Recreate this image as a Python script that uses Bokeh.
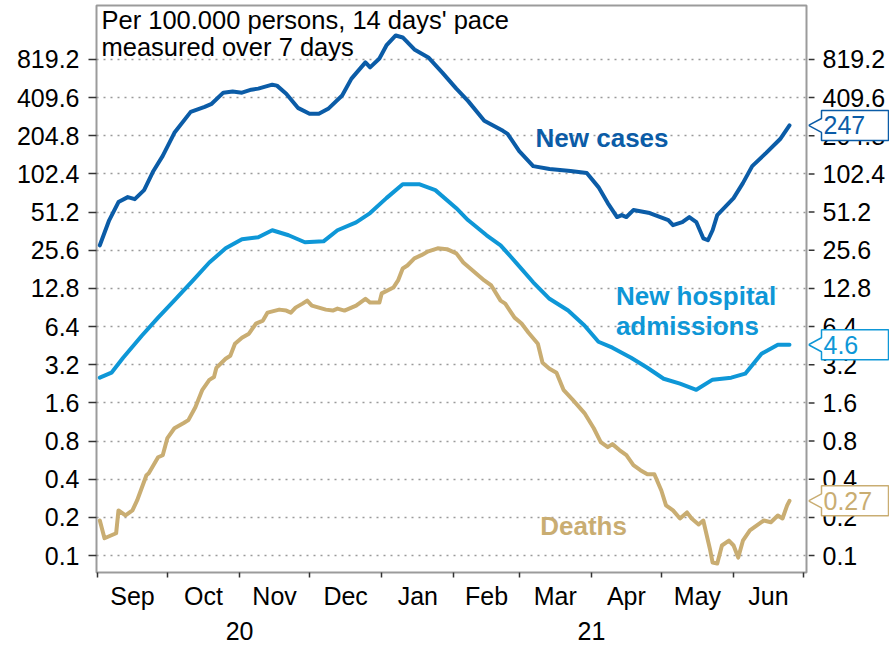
import pandas as pd
from bokeh.plotting import figure
from bokeh.layouts import row
from bokeh.models import (FixedTicker, DatetimeAxis, BasicTickFormatter,
                          DatetimeTickFormatter, Label, Range1d)
from bokeh.core.properties import value
from bokeh.embed import file_html
from bokeh.resources import INLINE

START = pd.Timestamp("2020-09-01")

# ---- data (days since 2020-09-01, values per 100.000 persons) ----
cases_day = [1, 5, 9, 13, 16, 20, 24, 28, 33, 40, 46, 49, 54, 58, 62, 66, 69, 75, 77, 81,
             86, 91, 95, 99, 105, 109, 115, 117, 121, 124, 128, 131, 136, 142, 148, 154, 159,
             166, 174, 176, 181, 187, 194, 203, 210, 215, 219, 223, 225, 227, 230, 237, 245,
             247, 251, 254, 257, 260, 262, 264, 266, 273, 277, 281, 287, 293, 297]
cases_val = [28.0, 44.1, 61.4, 67.2, 64.8, 76.3, 108, 142, 216, 316, 346, 366, 448, 457, 448,
             473, 482, 518, 509, 440, 340, 305, 305, 334, 425, 578, 776, 709, 834, 1056, 1266,
             1221, 982, 850, 645, 482, 386, 269, 224, 212, 155, 118, 112, 108, 104, 80.6, 60.3,
             46.8, 48.5, 46.8, 53.1, 50.3, 44.3, 40.4, 42.7, 46.8, 42.7, 31.8, 30.7, 36.8, 48.5,
             66.0, 86.6, 118, 150, 193, 247]

hosp_day = [1, 6, 11, 19, 26, 33, 41, 48, 55, 62, 69, 75, 82, 89, 97, 103, 111, 117, 124, 131,
            138, 145, 154, 159, 167, 173, 180, 187, 194, 202, 209, 215, 221, 229, 236, 243, 250,
            257, 264, 272, 278, 285, 292, 297]
hosp_val = [2.53, 2.77, 3.63, 5.42, 7.53, 10.3, 14.8, 20.5, 26.5, 31.3, 32.4, 36.8, 33.6, 29.6,
            30.1, 36.8, 42.5, 50.3, 66.0, 85.0, 85.0, 76.3, 55.0, 44.3, 33.6, 28.0, 20.1, 14.3,
            10.6, 8.56, 6.52, 4.86, 4.36, 3.63, 3.03, 2.48, 2.27, 2.03, 2.44, 2.53, 2.72, 3.91,
            4.6, 4.6]

deaths_day = [1, 3, 8, 9, 12, 15, 17, 21, 22, 26, 28, 30, 33, 37, 39, 42, 45, 48, 50, 51,
              55, 57, 59, 62, 65, 68, 71, 73, 78, 81, 83, 85, 88, 90, 92, 98, 101, 103, 106, 111,
              115, 117, 121, 122, 127, 129, 131, 133, 136, 139, 142, 146, 150, 154, 157, 161,
              166, 169, 173, 175, 179, 182, 185, 189, 191, 194, 197, 200, 204, 209, 213, 216,
              219, 221, 224, 227, 230, 233, 236, 239, 242, 244, 247, 250, 253, 255, 258, 260,
              263, 264, 266, 268, 271, 273, 275, 277, 280, 283, 286, 289, 292, 294, 296, 297]
deaths_val = [0.189, 0.137, 0.150, 0.227, 0.207, 0.227, 0.272, 0.43, 0.446, 0.596, 0.618, 0.845,
              1.01, 1.11, 1.17, 1.48, 2.03, 2.43, 2.56, 3.02, 3.57, 3.77, 4.68, 5.22, 5.62, 6.76,
              7.14, 8.25, 8.71, 8.56, 8.25, 9.03, 9.71, 10.26, 9.36, 8.71, 8.56, 8.87, 8.56, 9.36,
              10.6, 9.89, 9.89, 11.7, 13.0, 14.8, 18.4, 19.4, 22.1, 23.4, 25.1, 26.5, 26.1, 24.2,
              20.5, 17.7, 14.8, 13.5, 10.26, 9.71, 7.53, 6.76, 5.72, 4.68, 3.32, 2.98, 2.77, 2.03,
              1.69, 1.33, 1.01, 0.786, 0.717, 0.757, 0.68, 0.62, 0.516, 0.471, 0.438, 0.438,
              0.326, 0.249, 0.227, 0.196, 0.219, 0.196, 0.176, 0.189, 0.1095, 0.088, 0.0865,
              0.12, 0.131, 0.12, 0.0964, 0.131, 0.158, 0.173, 0.189, 0.183, 0.207, 0.196, 0.249,
              0.27]

y_ticks = [0.1, 0.2, 0.4, 0.8, 1.6, 3.2, 6.4, 12.8, 25.6, 51.2, 102.4, 204.8, 409.6, 819.2]
month_starts = ["2020-09-01", "2020-10-01", "2020-11-01", "2020-12-01", "2021-01-01",
                "2021-02-01", "2021-03-01", "2021-04-01", "2021-05-01", "2021-06-01",
                "2021-07-01"]
year_ticks = ["2020-11-01", "2021-04-01"]

end_labels = ["247", "4.6", "0.27"]
end_values = [247, 4.6, 0.27]

C_CASES = "#0B5CA7"
C_HOSP = "#0E97D7"
C_DEATHS = "#C9AD72"
FONT = "Liberation Sans"
Y_LO, Y_HI = 0.0735, 2182


def ms(ts):
    return pd.Timestamp(ts).value / 1e6


def dates(days):
    return START + pd.to_timedelta(days, unit="D")


def day_ms(d):
    return ms(START + pd.Timedelta(days=d))


x0, x1 = day_ms(-0.43), day_ms(304.3)
p = figure(width=808, height=645, x_axis_type=None, y_axis_type="log",
           x_range=Range1d(x0, x1), y_range=Range1d(Y_LO, Y_HI),
           output_backend="svg", toolbar_location=None,
           min_border_left=96, min_border_right=2, min_border_top=5, min_border_bottom=73)
p.outline_line_color = "#9b9b9b"
p.outline_line_width = 2
p.background_fill_color = "white"
p.border_fill_color = "white"

ax = p.yaxis[0]
ax.ticker = FixedTicker(ticks=y_ticks)
ax.formatter = BasicTickFormatter(precision=1, use_scientific=False)
ax.axis_line_color = None
ax.major_tick_out = 8
ax.major_tick_in = 0
ax.minor_tick_out = 0
ax.minor_tick_in = 0
ax.major_tick_line_color = "#333333"
ax.major_tick_line_width = 1.5
ax.major_label_standoff = 9
ax.major_label_text_font = FONT
ax.major_label_text_font_size = "25px"
ax.major_label_text_color = "black"

p.ygrid.ticker = FixedTicker(ticks=y_ticks)
p.ygrid.grid_line_color = "#9a9a9a"
p.ygrid.grid_line_dash = "2 5"
p.ygrid.grid_line_width = 1.5

bounds = pd.to_datetime(month_starts)
mids = [b + (bounds[i + 1] - b) / 2 for i, b in enumerate(bounds[:-1])]
all_b = dict(microseconds="%b", milliseconds="%b", seconds="%b", minsec="%b", minutes="%b",
             hourmin="%b", hours="%b", days="%b", months="%b", years="%b")
xa = DatetimeAxis(ticker=FixedTicker(ticks=[ms(m) for m in mids],
                                     minor_ticks=[ms(b) for b in bounds]),
                  formatter=DatetimeTickFormatter(**all_b))
xa.axis_line_color = None
xa.major_tick_out = 0
xa.major_tick_in = 0
xa.minor_tick_out = 5
xa.minor_tick_in = 0
xa.minor_tick_line_color = "#333333"
xa.minor_tick_line_width = 1.5
xa.major_label_standoff = 4
xa.major_label_text_font = FONT
xa.major_label_text_font_size = "25px"
xa.major_label_text_color = "black"
p.add_layout(xa, "below")

all_y = {k: "%y" for k in all_b}
ya = DatetimeAxis(ticker=FixedTicker(ticks=[ms(t) for t in year_ticks]),
                  formatter=DatetimeTickFormatter(**all_y))
ya.axis_line_color = None
ya.major_tick_out = 0
ya.major_tick_in = 0
ya.minor_tick_out = 0
ya.major_label_standoff = 9
ya.major_label_text_font = FONT
ya.major_label_text_font_size = "25px"
ya.major_label_text_color = "black"
p.add_layout(ya, "below")

p.line(dates(cases_day), cases_val, line_color=C_CASES, line_width=4, line_join="round", line_cap="round")
p.line(dates(hosp_day), hosp_val, line_color=C_HOSP, line_width=4, line_join="round", line_cap="round")
p.line(dates(deaths_day), deaths_val, line_color=C_DEATHS, line_width=4, line_join="round", line_cap="round")


def add_text(txt, d, v, color="black", bold=False, size="25.5px"):
    p.add_layout(Label(x=day_ms(d), y=v, text=txt, text_font=FONT, text_font_size=size,
                       text_color=color, text_font_style="bold" if bold else "normal",
                       text_align="left", text_baseline="alphabetic"))


add_text("Per 100.000 persons, 14 days' pace", 1.7, 1692)
add_text("measured over 7 days", 1.7, 1018)
add_text("New cases", 188, 197, C_CASES, True, "26px")
add_text("New hospital", 222.5, 11.2, C_HOSP, True, "26px")
add_text("admissions", 222.5, 6.5, C_HOSP, True, "26px")
add_text("Deaths", 190, 0.17, C_DEATHS, True, "26px")

# ---- right-hand panel: right value axis and end-value callouts ----
s = figure(width=81, height=645, y_axis_type="log", x_range=Range1d(0, 81),
           y_range=p.y_range, x_axis_location=None, y_axis_location=None,
           output_backend="svg", toolbar_location=None,
           min_border_left=0, min_border_right=0, min_border_top=5, min_border_bottom=73)
s.outline_line_color = None
s.grid.visible = False
s.background_fill_color = "white"
s.border_fill_color = "white"

tick_txt = [f"{t:.1f}" for t in y_ticks]
s.segment(x0=[0] * len(y_ticks), x1=[6] * len(y_ticks), y0=y_ticks, y1=y_ticks,
          line_color="#333333", line_width=1.5)
s.text(x=[14] * len(y_ticks), y=y_ticks, text=tick_txt, text_font=value(FONT),
       text_font_size="25px", text_color="black", text_baseline="middle", text_align="left")

k_box, k_arr = 1.313, 1.135
cx, cy = [], []
for v in end_values:
    cx.append([0, 13, 13, 80, 80, 13, 13])
    cy.append([v, v * k_arr, v * k_box, v * k_box, v / k_box, v / k_box, v / k_arr])
colors = [C_CASES, C_HOSP, C_DEATHS]
s.patches(xs=cx, ys=cy, fill_color="white", fill_alpha=1.0, line_color=colors, line_width=1.5)
s.text(x=[15] * len(end_values), y=end_values, text=end_labels, text_font=value(FONT),
       text_font_size="25px", text_color=colors, text_baseline="middle", text_align="left")

open("out.html", "w").write(file_html(row(p, s), INLINE))
